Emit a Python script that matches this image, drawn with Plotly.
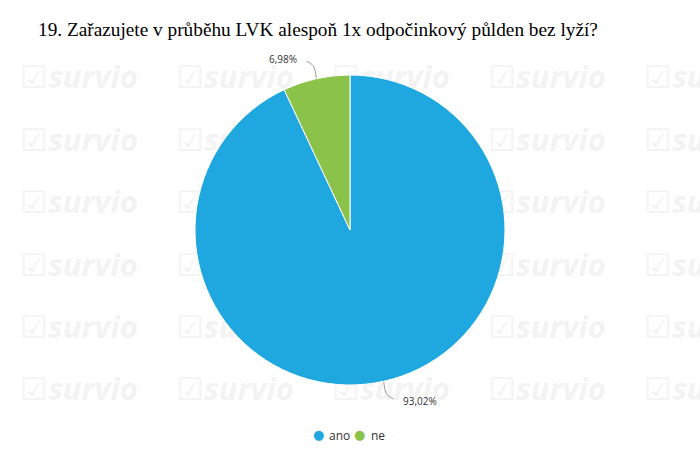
import math
import plotly.graph_objects as go

title = "19. Zařazujete v průběhu LVK alespoň 1x odpočinkový půlden bez lyží?"
labels = ["ano", "ne"]
values = [93.02, 6.98]
colors = ["#1fa8e0", "#8bc34a"]

W, H = 700, 464
cx, cy, r = 350, 230, 155

fig = go.Figure()

# faint watermark (behind pie, on hidden cartesian axes in pixel units)
wm_x = [79, 235, 391, 547, 703]
wm_y = [80, 143, 205, 268, 330, 392]
xs, ys = [], []
for yy in wm_y:
    for xx in wm_x:
        xs.append(xx)
        ys.append(yy)
fig.add_trace(go.Scatter(
    x=xs, y=ys, mode="text", text=["☑<i><b>survio</b></i>"] * len(xs),
    textfont=dict(family="Open Sans", size=31, color="#f3f3f3"),
    hoverinfo="skip", showlegend=False, cliponaxis=True))

fig.add_trace(go.Pie(
    labels=labels, values=values, sort=False, direction="clockwise",
    rotation=0, marker=dict(colors=colors, line=dict(color="white", width=1)),
    textinfo="none", hoverinfo="label+percent", showlegend=False,
    domain=dict(x=[(cx - r) / W, (cx + r) / W], y=[1 - (cy + r) / H, 1 - (cy - r) / H])))

# leader lines and labels computed from values
total = sum(values)
start = 0.0
for lab, v in zip(labels, values):
    mid = (start + v / 2) / total * 2 * math.pi
    start += v
    dx, dy = math.sin(mid), -math.cos(mid)
    ex, ey = cx + r * dx, cy + r * dy
    p1x, p1y = cx + (r + 13) * dx, cy + (r + 13) * dy
    side = 1 if dx >= 0 else -1
    vs = 1 if dy >= 0 else -1
    p2x, p2y = p1x + side * 7, p1y + vs * 5
    fig.add_trace(go.Scatter(
        x=[ex, p1x, p2x], y=[ey, p1y, p2y], mode="lines",
        line=dict(color="#999999", width=1, shape="spline"),
        hoverinfo="skip", showlegend=False))
    txt = f"{v:.2f}".replace(".", ",") + "%"
    fig.add_annotation(
        x=p2x + side * 7, y=p2y + vs * 2, xref="x", yref="y", text=txt,
        showarrow=False, xanchor="left" if side > 0 else "right", yanchor="middle",
        font=dict(family="Open Sans", size=10, color="#333333"))

# compact legend: coloured dots + labels
leg_y = 1 - 435 / H
leg_x0 = 318
leg_step = 42
for i, (lab, c) in enumerate(zip(labels, colors)):
    x0 = leg_x0 + i * leg_step
    fig.add_annotation(
        x=x0 / W, y=leg_y + 0.5 / H, xref="paper", yref="paper", text="●",
        showarrow=False, xanchor="center", yanchor="middle",
        font=dict(family="DejaVu Sans", size=13, color=c))
    fig.add_annotation(
        x=(x0 + 9) / W, y=leg_y, xref="paper", yref="paper", text=lab,
        showarrow=False, xanchor="left", yanchor="middle",
        font=dict(family="Open Sans", size=12, color="#333333"))

fig.update_layout(
    width=W, height=H,
    margin=dict(l=0, r=0, t=0, b=0),
    paper_bgcolor="white", plot_bgcolor="white",
    xaxis=dict(range=[0, W], visible=False, fixedrange=True),
    yaxis=dict(range=[H, 0], visible=False, fixedrange=True),
    title=dict(text=title, x=38 / W, xanchor="left", y=1 - 29 / H, yanchor="middle",
               font=dict(family="Liberation Serif", size=19.3, color="#000000")),
    showlegend=False,
)

fig.write_html("out.html", config={"displayModeBar": False},
               post_script="document.body.style.margin='0';")
